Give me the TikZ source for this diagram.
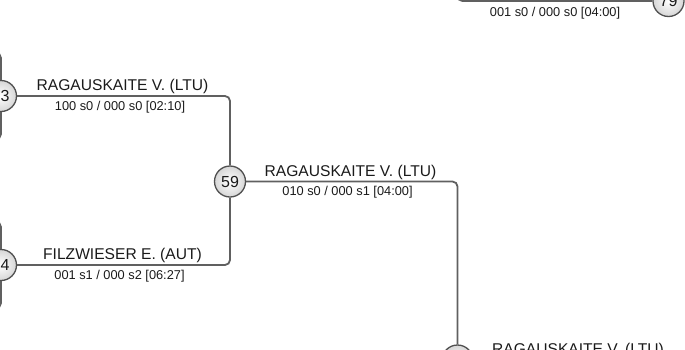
\documentclass[tikz,border=0pt]{standalone}
\usepackage{fontspec}
\setmainfont{Liberation Sans}
\definecolor{linegray}{HTML}{606060}
\definecolor{circgray}{HTML}{505050}
\definecolor{circfill}{HTML}{D6D6D6}
\definecolor{txt}{HTML}{1A1A1A}
\begin{document}
\begin{tikzpicture}[x=1pt,y=-1pt,
  conn/.style={draw=linegray, line width=1.8pt, rounded corners=5pt},
  matchc/.style={circle, draw=circgray, line width=1.3pt, minimum size=31pt, inner sep=0pt,
    inner color=white, outer color=circfill, text=txt, font=\fontsize{16}{16}\selectfont},
  numtxt/.style={inner sep=0pt, text=txt, font=\fontsize{16}{16}\selectfont},
  wname/.style={inner sep=0pt, anchor=base, text=txt, font=\fontsize{15.6}{16}\selectfont},
  wscore/.style={inner sep=0pt, anchor=base, text=txt, font=\fontsize{12.8}{13}\selectfont}]
\useasboundingbox (0,0) rectangle (685,349);
\clip (0,0) rectangle (685,349);

% match circles
\node[matchc] (c3) at (1,96) {};
\node[numtxt, anchor=west] (n3) at (0.5,96) {3};
\node[matchc] (c4) at (1,265) {};
\node[numtxt, anchor=west] (n4) at (0.5,265) {4};
\node[matchc] (c59) at (230,181.5) {59};
\node[matchc] (cB) at (457.5,360.5) {};
\node[matchc] (c79) at (668.5,1) {79};

% off-picture ends
\coordinate (l3a) at (-60,53);
\coordinate (l3b) at (-60,139);
\coordinate (l4a) at (-60,222);
\coordinate (l4b) at (-60,308);
\coordinate (tA) at (457.5,-60);
\coordinate (bB) at (457.5,420);
\coordinate (rB) at (760,360.5);

% connectors
\draw[conn] (l3a) -| (c3.north);
\draw[conn] (l3b) -| (c3.south);
\draw[conn] (l4a) -| (c4.north);
\draw[conn] (l4b) -| (c4.south);
\draw[conn] (c3.east) -| (c59.north);
\draw[conn] (c4.east) -| (c59.south);
\draw[conn] (c59.east) -| (cB.north);
\draw[conn] (tA) |- (c79.west);
\draw[conn] (cB.south) -- (bB);
\draw[conn] (cB.east) -- (rB);

% labels
\node[wname] (w3) at (122.5,90) {RAGAUSKAITE V. (LTU)};
\node[wscore] (s3) at (120,110) {100 s0 / 000 s0 [02:10]};
\node[wname] (w4) at (122.5,259.3) {FILZWIESER E. (AUT)};
\node[wscore] (s4) at (119.5,279.3) {001 s1 / 000 s2 [06:27]};
\node[wname] (w59) at (350.5,176) {RAGAUSKAITE V. (LTU)};
\node[wscore] (s59) at (347.5,195.5) {010 s0 / 000 s1 [04:00]};
\node[wscore] (s79) at (555,16) {001 s0 / 000 s0 [04:00]};
\node[wname] (wB) at (578,354) {RAGAUSKAITE V. (LTU)};
\end{tikzpicture}
\end{document}
